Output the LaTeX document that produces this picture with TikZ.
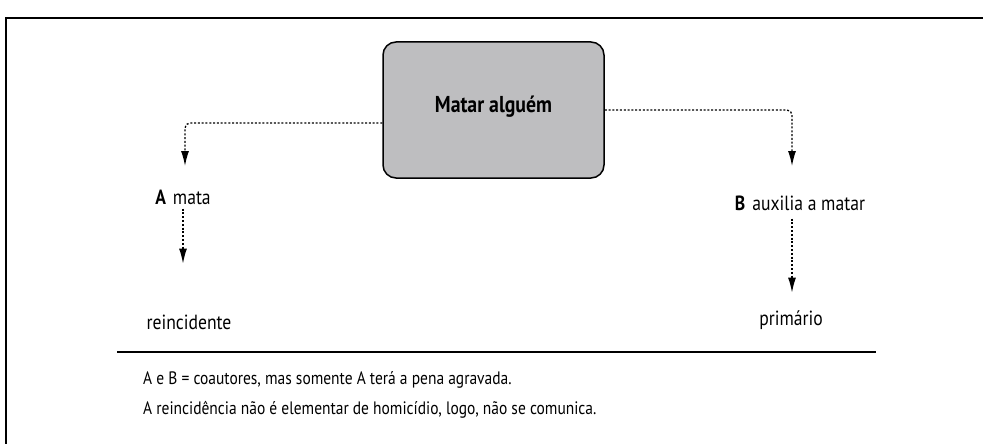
\documentclass[tikz,border=0pt]{standalone}
\usepackage{fontspec}
\setmainfont{PT Sans}[FakeStretch=0.86]
\usetikzlibrary{arrows.meta,positioning}
\definecolor{boxgray}{RGB}{190,190,192}
\tikzset{
  flow/.style={line width=1.3pt,dash pattern=on 2pt off 1.8pt,rounded corners=5pt,
    -{Latex[length=15pt,width=8pt]}},
  lbl/.style={font=\fontsize{20.5}{22}\selectfont,inner sep=0pt},
  note/.style={font=\fontsize{18}{20}\selectfont,inner sep=0pt,anchor=base west}
}
\begin{document}
\begin{tikzpicture}[x=1pt,y=-1pt]
  \useasboundingbox (0,0) rectangle (983,444);
  \draw[line width=1.5pt] (6,444)--(6,18)--(983,18);
  \node[draw,line width=1.5pt,fill=boxgray,rounded corners=13pt,
        minimum width=221pt,minimum height=136pt,inner sep=0pt] (m) at (493.5,110) {};
  \node[lbl,font=\fontsize{23}{25}\selectfont\bfseries] (mt) at (493.5,107) {Matar alguém};
  \node[lbl] (a) at (183,197) {\textbf{A}\hspace{7pt}mata};
  \node[lbl] (b) at (800,203) {\textbf{B}\hspace{7pt}auxilia a matar};
  \node[lbl] (r) at (189,322) {reincidente};
  \node[lbl] (p) at (791,320) {primário};
  \coordinate (ta) at (185,166);
  \coordinate (tb) at (792,166);
  \draw[flow] ([yshift=-13pt]m.west) -| (ta);
  \draw[flow] (m.east) -| (tb);
  \draw[flow] ([yshift=-4pt]a.south) -- ++(0,55);
  \draw[flow] ([xshift=-8pt,yshift=-8pt]b.south) -- ++(0,74);
  \draw[line width=1.5pt] (117,352) -- (876,352);
  \node[note] (n1) at (143,384) {A e B = coautores, mas somente A terá a pena agravada.};
  \node[note] (n2) at (143,414) {A reincidência não é elementar de homicídio, logo, não se comunica.};
\end{tikzpicture}
\end{document}
